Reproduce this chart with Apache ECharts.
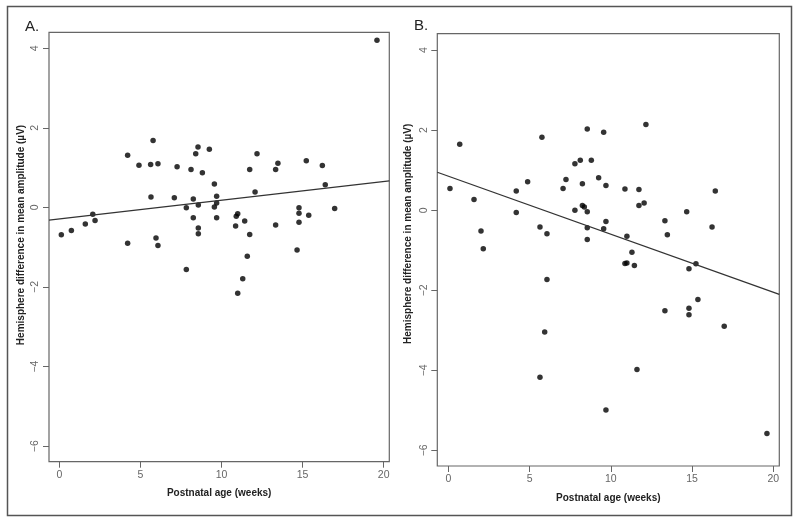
<!DOCTYPE html>
<html>
<head>
<meta charset="utf-8">
<script src="https://cdn.jsdelivr.net/npm/echarts@6/dist/echarts.min.js"></script>
<style>html,body{margin:0;padding:0;background:#fff;}#chart{width:800px;height:523px;}</style>
</head>
<body>
<div id="chart"></div>
<script>
// Panel A: postnatal age (weeks) and hemisphere difference (µV)
var ageA = [19.59,0.12,0.74,1.60,2.06,2.20,4.21,4.21,4.91,5.63,5.65,5.78,5.96,6.08,6.08,7.09,7.26,7.83,8.12,8.26,8.26,8.41,8.55,8.57,8.57,8.57,8.82,9.25,9.56,9.56,9.70,9.70,9.70,10.87,10.91,11.00,11.43,11.74,11.74,11.59,12.07,12.19,13.34,13.34,13.48,14.66,14.78,14.78,14.78,15.23,15.38,16.22,16.40,16.98,7.83,11.31,11.00];
var diffA = [4.20,-0.69,-0.58,-0.42,-0.17,-0.33,1.31,-0.90,1.06,1.08,0.26,1.68,-0.77,1.10,-0.96,0.24,1.02,-0.01,0.95,0.21,-0.26,1.35,1.52,0.06,-0.52,-0.66,0.87,1.46,0.59,0.01,0.28,0.11,-0.26,-0.47,-0.22,-0.16,-0.34,0.95,-0.68,-1.23,0.39,1.35,0.95,-0.44,1.11,-1.07,-0.01,-0.15,-0.37,1.17,-0.20,1.05,0.57,-0.03,-1.56,-1.79,-2.16];
// Panel B
var ageB = [0.10,0.70,1.58,2.01,2.15,4.18,4.18,4.88,5.64,5.76,6.07,7.06,7.24,7.79,7.79,8.12,8.25,8.25,8.37,8.55,8.55,8.55,8.55,8.80,9.25,9.56,9.56,9.70,9.70,10.87,10.99,11.30,11.73,11.73,12.05,12.16,13.33,13.48,14.67,16.23,16.43,10.87,10.99,11.45,14.81,15.24,6.07,15.36,14.81,14.81,13.33,16.98,5.93,11.61,5.64,9.70,19.61];
var diffB = [0.54,1.65,0.27,-0.52,-0.96,0.48,-0.06,0.71,-0.42,1.82,-0.59,0.54,0.77,1.16,0.00,1.25,0.66,0.12,0.08,2.03,-0.04,-0.44,-0.73,1.25,0.81,1.95,-0.46,0.62,-0.28,0.53,-0.65,-1.05,0.52,0.12,0.18,2.14,-0.26,-0.61,-0.04,-0.42,0.48,-1.33,-1.32,-1.38,-1.46,-1.34,-1.73,-2.23,-2.45,-2.61,-2.51,-2.90,-3.04,-3.98,-4.17,-4.99,-5.58];
// Fitted regression lines [intercept, slope]
var fitA = [-0.29, 0.047];
var fitB = [0.85, -0.145];
// Tick values
var xTicks = [0, 5, 10, 15, 20];
var yTicks = [-6, -4, -2, 0, 2, 4];
var panelTitles = ['A.', 'B.'];
var xTitle = 'Postnatal age (weeks)';
var yTitle = 'Hemisphere difference in mean amplitude (µV)';

var FONT = '"Liberation Sans", Arial, sans-serif';
var rangeA = {xmin: -0.64, xmax: 20.35, ymin: -6.39, ymax: 4.40};
var rangeB = {xmin: -0.68, xmax: 20.37, ymin: -6.39, ymax: 4.41};

function zip(a, b) { return a.map(function (v, i) { return [v, b[i]]; }); }
function fitLine(fit, r) { return [[r.xmin, fit[0] + fit[1] * r.xmin], [r.xmax, fit[0] + fit[1] * r.xmax]]; }
function fmt(v) { return String(v).replace('-', '\u2212'); }

function xAxis(idx, r) {
  return {
    type: 'value', gridIndex: idx, min: r.xmin, max: r.xmax, position: 'bottom',
    name: xTitle, nameLocation: 'middle', nameGap: 27,
    nameTextStyle: {fontFamily: FONT, fontSize: 10, fontWeight: 'bold', color: '#222'},
    axisLine: {show: false, onZero: false},
    axisTick: {show: true, length: 6, customValues: xTicks, lineStyle: {color: '#666', width: 1}},
    axisLabel: {customValues: xTicks, margin: 8, fontFamily: FONT, fontSize: 10.5, color: '#666', formatter: fmt},
    splitLine: {show: false}
  };
}
function yAxis(idx, r, gap, pad) {
  return {
    type: 'value', gridIndex: idx, min: r.ymin, max: r.ymax, position: 'left',
    name: yTitle, nameLocation: 'middle', nameGap: gap, nameRotate: 90,
    nameTextStyle: {fontFamily: FONT, fontSize: 10, fontWeight: 'bold', color: '#222', padding: [0, 0, 0, pad]},
    axisLine: {show: false, onZero: false},
    axisTick: {show: true, length: 6, customValues: yTicks, lineStyle: {color: '#666', width: 1}},
    axisLabel: {customValues: yTicks, rotate: 90, margin: 8, fontFamily: FONT, fontSize: 10.5, color: '#666', formatter: fmt},
    splitLine: {show: false}
  };
}

var chart = echarts.init(document.getElementById('chart'), null, {renderer: 'canvas'});
chart.setOption({
  animation: false,
  backgroundColor: '#fff',
  title: [
    {text: panelTitles[0], left: 20, top: 14, textStyle: {fontFamily: FONT, fontSize: 15, fontWeight: 'normal', color: '#222'}},
    {text: panelTitles[1], left: 409, top: 13, textStyle: {fontFamily: FONT, fontSize: 15, fontWeight: 'normal', color: '#222'}}
  ],
  graphic: [{
    type: 'rect', shape: {x: 7.5, y: 6.5, width: 784, height: 509},
    style: {fill: 'none', stroke: '#555', lineWidth: 1.5}, silent: true
  }],
  grid: [
    {left: 49, top: 32.3, width: 340.3, height: 429.4, show: true, borderColor: '#666', borderWidth: 1.2, backgroundColor: 'transparent'},
    {left: 437.3, top: 33.7, width: 342, height: 432.3, show: true, borderColor: '#666', borderWidth: 1.2, backgroundColor: 'transparent'}
  ],
  xAxis: [xAxis(0, rangeA), xAxis(1, rangeB)],
  yAxis: [yAxis(0, rangeA, 23, 24), yAxis(1, rangeB, 24, 32)],
  series: [
    {type: 'scatter', xAxisIndex: 0, yAxisIndex: 0, data: zip(ageA, diffA), symbolSize: 5.5, itemStyle: {color: '#000'}},
    {type: 'line', xAxisIndex: 0, yAxisIndex: 0, data: fitLine(fitA, rangeA), showSymbol: false, symbol: 'none', lineStyle: {color: '#333', width: 1.3}},
    {type: 'scatter', xAxisIndex: 1, yAxisIndex: 1, data: zip(ageB, diffB), symbolSize: 5.5, itemStyle: {color: '#000'}},
    {type: 'line', xAxisIndex: 1, yAxisIndex: 1, data: fitLine(fitB, rangeB), showSymbol: false, symbol: 'none', lineStyle: {color: '#333', width: 1.3}}
  ]
});
</script>
</body>
</html>
